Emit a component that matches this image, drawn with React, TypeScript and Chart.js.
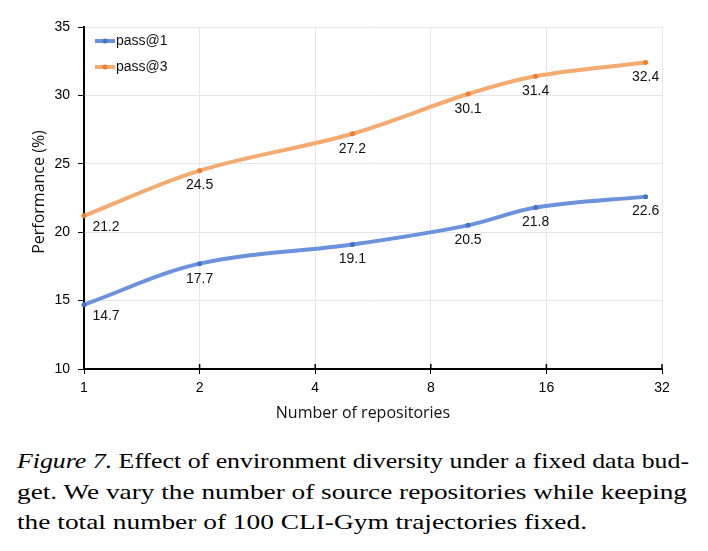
import React, { useEffect, useRef } from "react";
import { Chart, registerables } from "chart.js";
Chart.register(...registerables);

const repoCounts = [1, 2, 5, 10, 15, 29];
const pass1 = [14.7, 17.7, 19.1, 20.5, 21.8, 22.6];
const pass3 = [21.2, 24.5, 27.2, 30.1, 31.4, 32.4];
const xTicks = [1, 2, 4, 8, 16, 32];
const seriesNames = ["pass@1", "pass@3"];
const xTitle = "Number of repositories";
const yTitle = "Performance (%)";
const captionLabel = "Figure 7.";
const captionLines = [
  " Effect of environment diversity under a fixed data bud-",
  "get. We vary the number of source repositories while keeping",
  "the total number of 100 CLI-Gym trajectories fixed.",
];

const lineColors = ["rgba(108,146,222,1)", "rgba(245,170,112,1)"];
const pointColors = ["#4472c4", "#ed7d31"];

export default function App() {
  const ref = useRef<HTMLCanvasElement | null>(null);
  useEffect(() => {
    const canvas = ref.current;
    if (!canvas) return;
    const labelFont = "14px 'Liberation Sans', Arial, sans-serif";
    const extras = {
      id: "extras",
      afterDatasetsDraw(chart: any) {
        const ctx = chart.ctx;
        const area = chart.chartArea;
        ctx.save();
        const xs = chart.scales.x;
        ctx.strokeStyle = "#000";
        ctx.lineWidth = 1.5;
        xTicks.forEach((v) => {
          const px = xs.getPixelForValue(v);
          ctx.beginPath();
          ctx.moveTo(px, area.bottom - 5);
          ctx.lineTo(px, area.bottom);
          ctx.stroke();
        });
        ctx.font = labelFont;
        ctx.fillStyle = "#111";
        ctx.textAlign = "center";
        ctx.textBaseline = "middle";
        chart.data.datasets.forEach((ds: any, di: number) => {
          const meta = chart.getDatasetMeta(di);
          meta.data.forEach((pt: any, i: number) => {
            const dx = i === 0 ? 22 : 0;
            const dy = i === 0 ? 11 : 15;
            ctx.fillText(String(ds.data[i].y.toFixed(1)), pt.x + dx, pt.y + dy);
          });
        });
        seriesNames.forEach((name, i) => {
          const y = 41 + i * 26;
          ctx.strokeStyle = lineColors[i];
          ctx.lineWidth = 4;
          ctx.beginPath();
          ctx.moveTo(95, y);
          ctx.lineTo(115, y);
          ctx.stroke();
          ctx.fillStyle = pointColors[i];
          ctx.beginPath();
          ctx.arc(105, y, 2.5, 0, Math.PI * 2);
          ctx.fill();
          ctx.fillStyle = "#111";
          ctx.textAlign = "left";
          ctx.fillText(name, 116, y);
        });
        ctx.font = "16px 'Open Sans', sans-serif";
        ctx.fillStyle = "#111";
        ctx.textAlign = "center";
        ctx.fillText(xTitle, 363, 413);
        ctx.translate(39, 192);
        ctx.rotate(-Math.PI / 2);
        ctx.fillText(yTitle, 0, 0);
        ctx.restore();
      },
    };
    const tickFont = { family: "'Liberation Sans', Arial, sans-serif", size: 14 };
    const chart = new Chart(canvas, {
      type: "line",
      data: {
        datasets: [pass1, pass3].map((vals, di) => ({
          label: seriesNames[di],
          data: repoCounts.map((x, i) => ({ x, y: vals[i] })),
          borderColor: lineColors[di],
          backgroundColor: pointColors[di],
          pointBackgroundColor: pointColors[di],
          pointBorderColor: pointColors[di],
          pointRadius: 2.5,
          pointBorderWidth: 0,
          borderWidth: 4,
          tension: 0.35,
          fill: false,
          clip: false as any,
        })),
      },
      options: {
        responsive: false,
        animation: false,
        events: [],
        layout: { padding: { left: 0, right: 46, top: 27, bottom: 0 } },
        plugins: { legend: { display: false }, tooltip: { enabled: false } },
        scales: {
          x: {
            type: "logarithmic",
            min: 1,
            max: 32,
            afterBuildTicks: (s: any) => {
              s.ticks = xTicks.map((v) => ({ value: v }));
            },
            afterFit: (s: any) => {
              s.height = 61;
            },
            ticks: {
              callback: (v: any) => String(v),
              font: tickFont,
              color: "#000",
              padding: 6,
              autoSkip: false,
              maxRotation: 0,
            },
            grid: { color: "#e6e6e6", tickColor: "#000", tickLength: 5, lineWidth: 1 },
            border: { color: "#000", width: 2 },
          },
          y: {
            min: 10,
            max: 35,
            ticks: { stepSize: 5, font: tickFont, color: "#000", padding: 8 },
            afterFit: (s: any) => {
              s.width = 84;
            },
            grid: { color: "#e6e6e6", tickColor: "#000", tickLength: 6, lineWidth: 1 },
            border: { color: "#000", width: 2 },
          },
        },
      },
      plugins: [extras],
    } as any);
    return () => chart.destroy();
  }, []);

  const serif = "'Liberation Serif', 'Times New Roman', serif";
  return (
    <div style={{ position: "absolute", left: 0, top: 0, width: 708, height: 551, background: "#fff" }}>
      <canvas ref={ref} width={708} height={430} style={{ display: "block", width: 708, height: 430 }} />
      <svg
        width={708}
        height={121}
        style={{ position: "absolute", left: 0, top: 430, display: "block" }}
      >
        <g fontFamily={serif} fontSize={21.5} fill="#000">
          <text x={17} y={38} textLength={672} lengthAdjust="spacingAndGlyphs">
            <tspan fontStyle="italic">{captionLabel}</tspan>
            {captionLines[0]}
          </text>
          <text x={17} y={69} textLength={670} lengthAdjust="spacingAndGlyphs">
            {captionLines[1]}
          </text>
          <text x={17} y={99} textLength={570} lengthAdjust="spacingAndGlyphs">
            {captionLines[2]}
          </text>
        </g>
      </svg>
    </div>
  );
}
